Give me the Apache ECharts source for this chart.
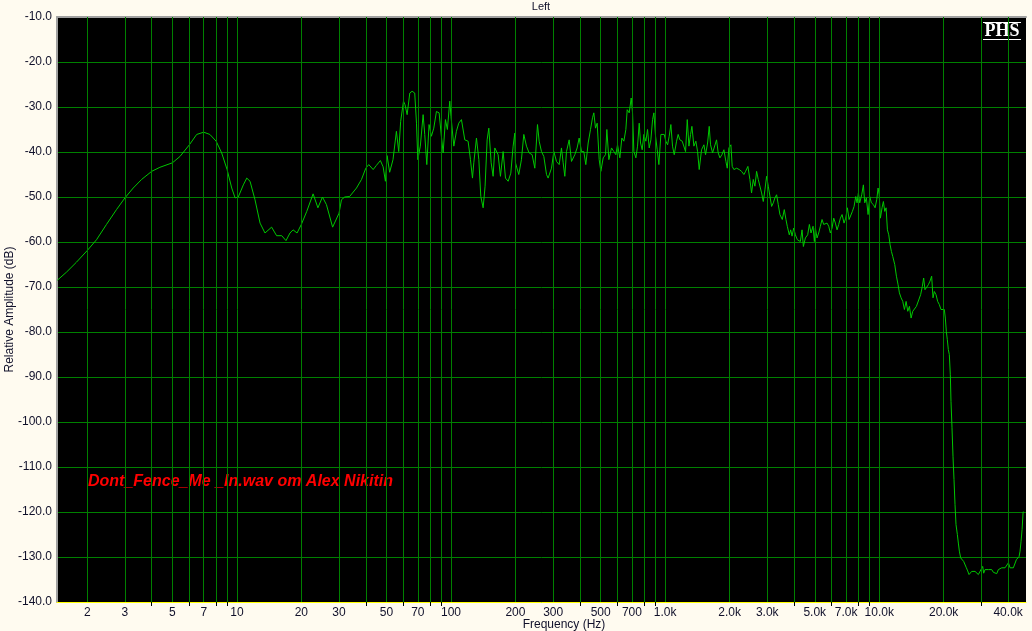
<!DOCTYPE html>
<html><head><meta charset="utf-8">
<script src="https://cdn.jsdelivr.net/npm/echarts@6/dist/echarts.min.js"></script>
<style>html,body{margin:0;padding:0;background:#FFFBF0}#c{width:1032px;height:631px}</style>
</head><body><div id="c"></div><script>
// ---- data: [frequency (Hz), relative amplitude (dB)] ----
const lowBand = [[1.45,-68.5],[1.60,-66.7],[1.78,-64.5],[2.0,-61.9],[2.21,-59.5],[2.46,-56.1],[2.74,-52.8],[3.0,-50.2],[3.28,-48.0],[3.59,-46.1],[4.0,-44.3],[4.37,-43.4],[5.0,-42.4],[5.42,-41.0],[6.0,-38.4],[6.49,-36.1],[7.0,-35.6],[7.48,-36.1],[8.0,-37.6],[8.49,-40.2],[9.0,-43.9],[9.46,-48.0],[9.81,-50.2],[10.15,-50.0],[10.72,-47.3],[11.12,-45.8],[11.52,-46.5],[12.15,-50.6],[12.83,-55.8],[13.53,-58.0],[14.53,-56.7],[15.33,-58.6],[16.2,-58.6],[16.96,-59.7],[17.7,-58.0],[18.3,-57.3],[19.1,-58.0],[20.0,-56.1],[21.2,-53.2]];
const bassBand = [[22.7,-49.3],[23.9,-52.4],[25.1,-50.0],[26.2,-51.7],[28.0,-56.7],[30.0,-53.6],[30.8,-50.6],[31.9,-50.0],[33.6,-49.9],[36.2,-48.0],[38.2,-46.1],[40.0,-43.6],[41.3,-42.8],[43.3,-43.9],[44.8,-43.0],[46.8,-41.9],[48.2,-43.3],[49.4,-46.5],[50.3,-40.8],[51.7,-44.5],[53.6,-41.7],[55.6,-35.4],[57.0,-39.9],[58.2,-33.2],[60,-28.7],[61,-29.5],[62.4,-31.7],[64.2,-26.9],[65.8,-26.5],[67.7,-26.9],[69.0,-33.6],[70,-41.7],[71.9,-38.7],[74.1,-31.7],[75.4,-36.1],[77.1,-42.8],[79,-33.9],[81,-36.5],[83.1,-34.7],[85.5,-31.0],[88,-31.3],[90.2,-36.5],[91.9,-40.2],[94.2,-32.8],[96.2,-35.0],[98.7,-28.7],[100,-32.1],[103.1,-38.7],[106,-35.4],[108.7,-33.6],[111.9,-32.8],[116,-37.3],[120.2,-37.6],[123.3,-41.7],[126,-45.8],[127.8,-42.4],[131.5,-36.9],[134.9,-41.7],[137.8,-49.9],[141.3,-52.4],[144.3,-47.6],[147.5,-37.3],[150.2,-34.7],[154,-42.4],[157.3,-45.4],[160.2,-39.1],[166,-40.6],[170.2,-45.4],[175.2,-39.9],[179.7,-45.8],[184.9,-46.5],[190.3,-44.7],[195.1,-38.7],[198.6,-35.8],[200,-42.4],[207.3,-45.0],[213.3,-41.7],[218.8,-36.1],[225.2,-38.7],[231.7,-40.2],[239.3,-40.6],[246.3,-43.6],[253.5,-33.9],[258.1,-37.6],[264.6,-39.9],[271.4,-41.0],[279.3,-45.0],[284.2,-45.8],[294.7,-43.6]];
const midBand = [[302.2,-39.9],[311,-42.1],[320.1,-42.8],[328.1,-39.1],[334.1,-42.4],[340.1,-45.4],[346.3,-39.9],[356.4,-37.3],[365.4,-42.1],[378.7,-40.6],[388.3,-39.1],[396.8,-36.9],[406.9,-39.9],[417.2,-39.9],[426.3,-42.8],[437.2,-38.0],[448.3,-35.0],[458.1,-32.4],[464.7,-31.3],[473.1,-34.7],[481.6,-33.6],[492.2,-41.7],[501.1,-44.3],[513.8,-41.3],[526.9,-40.6],[534.5,-35.0],[546.1,-41.7],[562,-39.1],[576.3,-39.9],[588.8,-40.6],[599.5,-38.4],[614.7,-41.3],[628.1,-36.9],[641.8,-37.6],[655.7,-35.0],[665.3,-30.6],[679.8,-31.3],[694.5,-28.0],[704.6,-31.3],[714.8,-39.9],[730.3,-41.3],[743.5,-38.7],[756.9,-33.6],[767.8,-38.0],[781.7,-39.5],[795.9,-36.1],[813.2,-37.6],[827.9,-35.0],[842.9,-39.1],[858.2,-37.3],[873.7,-32.8],[886.3,-31.3],[902.4,-36.5],[918.7,-39.5],[935.4,-42.8],[955.7,-36.1],[972.7,-36.5],[990.4,-36.1],[1008,-37.6],[1027,-38.4],[1045,-36.5],[1064,-33.9],[1083,-38.7],[1103,-40.6],[1131,-37.6],[1151,-36.1],[1172,-37.3],[1202,-37.6],[1228,-38.0],[1246,-39.9],[1269,-32.8],[1292,-38.7],[1315,-36.1],[1334,-34.3],[1363,-38.7],[1392,-37.6],[1418,-39.9],[1443,-43.9],[1480,-39.5],[1518,-38.4],[1545,-40.6],[1579,-38.0],[1607,-34.3],[1630,-38.4],[1666,-40.2],[1702,-40.2],[1739,-37.3],[1770,-40.2],[1803,-41.3],[1842,-40.6],[1882,-39.5],[1923,-42.1],[1951,-43.6],[1986,-39.1],[2029,-38.4],[2058,-43.2],[2096,-43.9],[2157,-43.6],[2220,-43.9],[2276,-44.3],[2334,-45.0],[2376,-44.3],[2436,-43.2],[2489,-46.1],[2534,-49.1],[2581,-46.1],[2627,-47.6],[2675,-44.3],[2723,-46.1],[2772,-46.5],[2823,-49.1],[2874,-51.0],[2926,-48.4],[2979,-45.4],[3033,-47.6],[3088,-47.6],[3144,-52.1],[3201,-51.3],[3258,-50.2],[3317,-49.5],[3378,-51.7],[3438,-53.9],[3526,-55.0],[3603,-52.8],[3668,-55.0],[3721,-56.5],[3802,-58.4]];
const trebleBand = [[3860,-57.3],[3916,-58.7],[3987,-56.9],[4059,-58.4],[4147,-59.5],[4207,-59.1],[4283,-59.9],[4361,-57.3],[4424,-61.0],[4520,-59.1],[4634,-58.4],[4718,-56.1],[4803,-58.0],[4908,-56.5],[4979,-59.9],[5033,-56.9],[5124,-59.1],[5216,-58.0],[5311,-56.5],[5407,-55.0],[5505,-56.1],[5604,-55.8],[5706,-55.8],[5810,-56.5],[5915,-58.0],[6022,-56.9],[6131,-54.7],[6242,-55.8],[6355,-57.3],[6470,-56.1],[6587,-54.7],[6707,-53.9],[6852,-55.8],[6976,-54.7],[7103,-52.4],[7232,-55.0],[7363,-55.0],[7494,-53.2],[7631,-52.1],[7769,-49.9],[7881,-51.3],[7994,-49.1],[8110,-51.3],[8286,-49.5],[8436,-47.3],[8558,-51.3],[8712,-50.2],[8870,-53.9],[9030,-49.9],[9193,-51.3],[9395,-51.7],[9564,-52.4],[9737,-50.6],[9879,-48.0],[10000,-49.5],[10127,-54.7],[10311,-52.4],[10461,-51.0],[10612,-53.2],[10767,-52.4],[10922,-57.3],[11080,-58.4],[11240,-60.6],[11402,-62.1],[11567,-63.2],[11818,-65.0],[12032,-67.6],[12250,-69.5],[12427,-71.3],[12652,-72.4],[12881,-73.2],[13114,-75.0],[13352,-73.2],[13594,-75.4],[13838,-74.3],[14089,-76.9],[14344,-75.4],[14604,-75.8],[14920,-74.3],[15190,-73.9]];
const topBand = [[15612,-71.7],[15896,-69.9],[16126,-68.0],[16362,-70.6],[16657,-70.2],[16957,-69.5],[17266,-68.7],[17577,-67.6],[17833,-72.4],[18090,-71.0],[18418,-71.7],[18750,-73.2],[19085,-73.9],[19432,-75.0],[19783,-75.4],[20143,-75.0],[20362,-76.9],[20583,-79.9],[20800,-81.7],[21026,-83.9],[21254,-85.0],[21486,-89.5],[21640,-95.4],[21878,-101.3],[22111,-107.6],[22352,-112.8],[22594,-118.3],[22840,-122.8],[23170,-125.0],[23422,-126.9],[23673,-128.7],[24017,-130.2],[24450,-130.6],[24806,-131.0],[25164,-131.3],[25531,-132.4],[25898,-133.1],[26272,-133.9],[26650,-133.6],[27035,-133.2],[27523,-133.6],[28022,-133.2],[28530,-133.6],[29040,-133.9],[29567,-133.2],[30097,-133.6],[30424,-132.1],[30756,-133.6],[31200,-132.8],[31766,-133.2],[32343,-132.8],[32930,-133.2],[33528,-132.8],[34135,-133.4],[34755,-133.2],[35385,-133.7],[36020,-132.8],[36672,-133.2],[37337,-132.4],[38014,-132.8],[38702,-132.4],[39403,-132.6],[40118,-131.3],[40845,-132.4],[41585,-132.4],[42323,-132.4],[43090,-132.1],[43716,-130.6],[44360,-130.2],[45000,-129.9],[45480,-128.7],[45970,-126.5],[46480,-123.9],[46970,-120.2],[47100,-119.9]];

const gridFreqs = [2,3,4,5,6,7,8,9,10,20,30,40,50,60,70,80,90,100,200,300,400,500,600,700,800,900,1000,2000,3000,4000,5000,6000,7000,8000,9000,10000,20000,30000,40000];
const labelFreqs = [2,3,5,7,10,20,30,50,70,100,200,300,500,700,1000,2000,3000,5000,7000,10000,20000,40000];
const tickOnlyFreqs = gridFreqs.filter(f => labelFreqs.indexOf(f) < 0);
const F_MIN = 1.445, F_MAX = 48480;
const Y_MIN = -140, Y_MAX = -10, Y_STEP = 10;

const FONT = '"Liberation Sans", Arial, sans-serif';
const GRID_GREEN = '#008000';
const fmtFreq = v => v >= 1000 ? (v / 1000).toFixed(1) + 'k' : String(v);
const allPoints = lowBand.concat(bassBand, midBand, trebleBand, topBand);

const chart = echarts.init(document.getElementById('c'), null, {renderer: 'canvas'});
chart.setOption({
  backgroundColor: '#FFFBF0',
  animation: false,
  grid: {left: 57, right: 6, top: 17, bottom: 29, show: true, backgroundColor: '#000000', borderWidth: 0,
         containLabel: false, outerBoundsMode: 'none'},
  xAxis: [
    {
      type: 'log', logBase: 10, min: F_MIN, max: F_MAX, position: 'bottom',
      axisLine: {show: true, onZero: false, lineStyle: {color: '#FFFF00', width: 1}},
      axisTick: {show: true, interval: 0, customValues: tickOnlyFreqs, length: 4, lineStyle: {color: '#000000', width: 1}},
      axisLabel: {customValues: labelFreqs, interval: 0, formatter: fmtFreq, color: '#10102a', fontSize: 12, fontFamily: FONT, margin: 5},
      splitLine: {show: false}, splitArea: {show: false},
      minorTick: {show: false}, minorSplitLine: {show: false}
    },
    {
      type: 'log', logBase: 10, min: F_MIN, max: F_MAX, position: 'top',
      axisLine: {show: true, onZero: false, lineStyle: {color: '#A0A0A0', width: 2}},
      axisTick: {show: false}, axisLabel: {show: false},
      splitLine: {show: false}, splitArea: {show: false},
      minorTick: {show: false}, minorSplitLine: {show: false}
    }
  ],
  yAxis: {
    type: 'value', min: Y_MIN, max: Y_MAX, interval: Y_STEP,
    axisLine: {show: true, onZero: false, lineStyle: {color: '#A0A0A0', width: 2}},
    axisTick: {show: false},
    axisLabel: {formatter: v => v.toFixed(1), color: '#10102a', fontSize: 12, fontFamily: FONT, margin: 5},
    splitLine: {show: true, lineStyle: {color: GRID_GREEN, width: 1}},
    name: 'Relative Amplitude (dB)', nameLocation: 'middle', nameGap: 41, nameMoveOverlap: false,
    nameTextStyle: {color: '#10102a', fontSize: 12, fontFamily: FONT}
  },
  series: [{
    type: 'line', xAxisIndex: 0, yAxisIndex: 0, data: allPoints, z: 3,
    symbol: 'none', showSymbol: false, clip: true,
    lineStyle: {color: '#00C800', width: 1},
    markLine: {
      silent: true, symbol: 'none', animation: false, precision: 6,
      label: {show: false},
      lineStyle: {type: 'solid', color: GRID_GREEN, width: 1},
      emphasis: {disabled: true},
      data: gridFreqs.map(f => ({xAxis: f}))
    }
  }],
  graphic: [
    {type: 'text', x: 541, y: 7, style: {text: 'Left', fill: '#10102a', font: '11px ' + FONT, align: 'center', verticalAlign: 'middle'}},
    {type: 'text', x: 564, y: 625, style: {text: 'Frequency (Hz)', fill: '#10102a', font: '12px ' + FONT, align: 'center', verticalAlign: 'middle'}},
    {type: 'text', x: 88, y: 482, style: {text: 'Dont_Fence_Me _In.wav om Alex Nikitin', fill: '#FF0000', font: 'italic bold 16px ' + FONT, align: 'left', verticalAlign: 'middle'}},
    {type: 'group', x: 982, y: 17, z: 10, children: [
      {type: 'rect', shape: {x: 0, y: 0, width: 41, height: 26}, style: {fill: '#000000'}},
      {type: 'line', shape: {x1: 1, y1: 5.5, x2: 39, y2: 5.5}, style: {stroke: '#FFFFFF', lineWidth: 1}},
      {type: 'text', x: 20, y: 14, style: {text: 'PHS', fill: '#FFFFFF', font: 'bold 18px "Liberation Serif", "Times New Roman", serif', align: 'center', verticalAlign: 'middle'}},
      {type: 'line', shape: {x1: 1, y1: 22.5, x2: 39, y2: 22.5}, style: {stroke: '#FFFFFF', lineWidth: 1}}
    ]}
  ]
});
</script></body></html>
